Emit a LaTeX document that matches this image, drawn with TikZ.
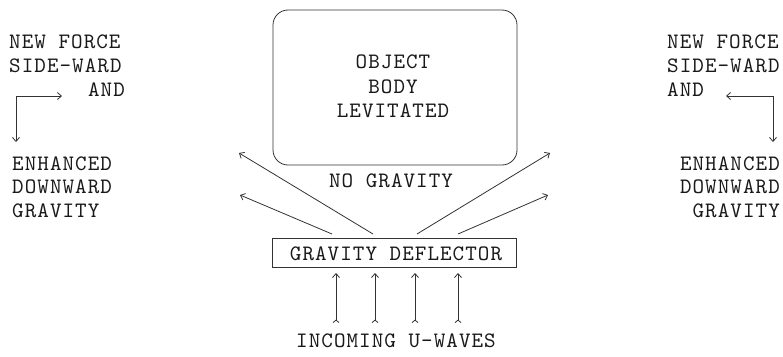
\documentclass[tikz,border=0pt]{standalone}
\usepackage{fontspec}
\newfontfamily\courfont[LetterSpace=4.8]{lmmono10-regular.otf}
\usetikzlibrary{arrows.meta}
\begin{document}
\begin{tikzpicture}[x=1pt,y=-1pt,
  txt/.style={font=\courfont\fontsize{22}{24}\selectfont, inner sep=0pt, text=black!90},
  lnk/.style={line width=0.8pt, draw=black!80},
  conn/.style={lnk, -{Straight Barb[length=4pt,width=7pt]}},
  dconn/.style={lnk, {Straight Barb[length=4pt,width=7pt]}-{Straight Barb[length=4pt,width=7pt]}},
  upconn/.style={lnk, {Straight Barb[reversed,length=2.5pt,width=6pt]}-{Straight Barb[length=4pt,width=7pt]}}]
\useasboundingbox (0,0) rectangle (783,356);

% left texts
\node[txt, anchor=base west] (lnew)  at (9,48)  {NEW FORCE};
\node[txt, anchor=base west] (lside) at (9,72)  {SIDE-WARD};
\node[txt, anchor=base east] (land)  at (125,96) {AND};
\node[txt, anchor=base west] (lenh)  at (12,170) {ENHANCED};
\node[txt, anchor=base west] (ldown) at (12,193) {DOWNWARD};
\node[txt, anchor=base west] (lgrav) at (12,217) {GRAVITY};

% right texts
\node[txt, anchor=base west] (rnew)  at (667,48)  {NEW FORCE};
\node[txt, anchor=base west] (rside) at (667,72)  {SIDE-WARD};
\node[txt, anchor=base west] (rand)  at (667,96)  {AND};
\node[txt, anchor=base east] (renh)  at (780,170) {ENHANCED};
\node[txt, anchor=base east] (rdown) at (780,193) {DOWNWARD};
\node[txt, anchor=base east] (rgrav) at (780,217) {GRAVITY};

% side bent arrows
\coordinate (la1) at (62,96);
\coordinate (lc)  at (16,96);
\coordinate (la2) at (16,142);
\draw[dconn] (la1) -- (lc) -- (la2);
\coordinate (ra1) at (726,96);
\coordinate (rc)  at (773,96);
\coordinate (ra2) at (773,142);
\draw[dconn] (ra1) -- (rc) -- (ra2);

% object body
\node[lnk, draw, rounded corners=15pt, minimum width=244pt, minimum height=155pt, inner sep=0pt] (obj) at (395,87.5) {};
\node[txt, anchor=base] (t1) at (393,68)  {OBJECT};
\node[txt, anchor=base] (t2) at (393,93)  {BODY};
\node[txt, anchor=base] (t3) at (393,117) {LEVITATED};
\node[txt, anchor=base] (nog) at (391,187) {NO GRAVITY};

% deflector
\node[lnk, draw, minimum width=244pt, minimum height=29pt, inner sep=0pt] (defl) at (394,252.5) {};
\node[txt, anchor=base] (dtxt) at (396,260) {GRAVITY DEFLECTOR};

% deflected arrows
\coordinate (s1) at (332,234);
\coordinate (s2) at (373,234);
\coordinate (s3) at (417,234);
\coordinate (s4) at (458,234);
\coordinate (e1) at (240,195);
\coordinate (e2) at (239,153);
\coordinate (e3) at (550,153);
\coordinate (e4) at (548,195);
\draw[conn] (s1) -- (e1);
\draw[conn] (s2) -- (e2);
\draw[conn] (s3) -- (e3);
\draw[conn] (s4) -- (e4);

% incoming waves
\foreach \i/\x in {1/336,2/375,3/415,4/458}{
  \coordinate (u\i) at (\x,323);
  \coordinate (v\i) at (\x,273);
  \draw[upconn] (u\i) -- (v\i);
}
\node[txt, anchor=base] (inc) at (396,347) {INCOMING U-WAVES};
\end{tikzpicture}
\end{document}
